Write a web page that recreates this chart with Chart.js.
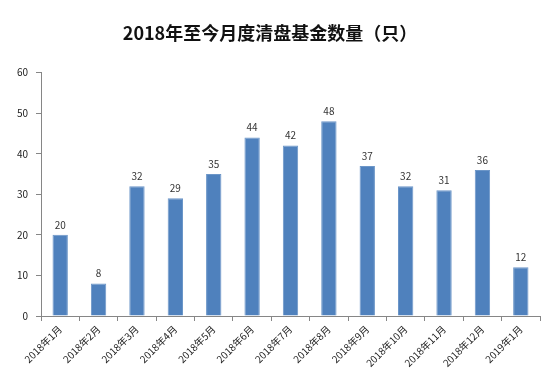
<!DOCTYPE html>
<html>
<head>
<meta charset="utf-8">
<script src="https://cdn.jsdelivr.net/npm/chart.js@4/dist/chart.umd.min.js"></script>
<style>
  html, body { margin: 0; padding: 0; background: #fff; }
  #wrap { width: 550px; height: 376px; }
</style>
</head>
<body>
<div id="wrap"><canvas id="myChart" width="550" height="376"></canvas></div>
<script>
// 月份
const labels = ["2018年1月", "2018年2月", "2018年3月", "2018年4月", "2018年5月", "2018年6月",
  "2018年7月", "2018年8月", "2018年9月", "2018年10月", "2018年11月", "2018年12月", "2019年1月"];
// 清盘基金数量
const counts = [20, 8, 32, 29, 35, 44, 42, 48, 37, 32, 31, 36, 12];
const yTicks = [0, 10, 20, 30, 40, 50, 60];

const fontFamily = "'Noto Sans CJK SC', 'DejaVu Sans', sans-serif";

// simple value labels on top of bars
const valueLabels = {
  id: "valueLabels",
  afterDatasetsDraw(chart) {
    const ctx = chart.ctx;
    const meta = chart.getDatasetMeta(0);
    ctx.save();
    ctx.fillStyle = "#333";
    ctx.font = "10px " + fontFamily;
    ctx.textAlign = "center";
    ctx.textBaseline = "bottom";
    meta.data.forEach((bar, i) => {
      ctx.fillText(String(counts[i]), bar.x, bar.y - 5);
    });
    ctx.restore();
  }
};

const ctx = document.getElementById("myChart").getContext("2d");
const myChart = new Chart(ctx, {
  type: "bar",
  data: {
    labels: labels,
    datasets: [{
      data: counts,
      backgroundColor: "#4F81BD",
      borderColor: "#6C96C8",
      borderWidth: 1,
      categoryPercentage: 1,
      barPercentage: 0.4
    }]
  },
  options: {
    responsive: false,
    animation: false,
    layout: { padding: { left: 0, right: 10, bottom: 0, top: 0 } },
    plugins: {
      legend: { display: false },
      tooltip: { enabled: false },
      title: {
        display: true,
        text: "2018年至今月度清盘基金数量（只）",
        color: "#111",
        font: { family: fontFamily, size: 18, weight: "bold" },
        padding: { top: 22, bottom: 29 }
      }
    },
    scales: {
      y: {
        min: 0,
        max: 60,
        afterFit(axis) { axis.width = 41; },
        afterBuildTicks(axis) { axis.ticks = yTicks.map(v => ({ value: v })); },
        border: { color: "#868686", width: 1 },
        grid: { drawOnChartArea: false, drawTicks: true, tickLength: 5, color: "#868686" },
        ticks: { color: "#222", padding: 8, font: { family: fontFamily, size: 10 } }
      },
      x: {
        afterFit(axis) { axis.height = 60; },
        border: { color: "#868686", width: 1 },
        grid: { drawOnChartArea: false, drawTicks: true, tickLength: 5, color: "#868686", offset: true },
        ticks: {
          color: "#222",
          autoSkip: false,
          maxRotation: 45,
          minRotation: 45,
          padding: 2,
          font: { family: fontFamily, size: 10 }
        }
      }
    }
  },
  plugins: [valueLabels]
});
</script>
</body>
</html>
